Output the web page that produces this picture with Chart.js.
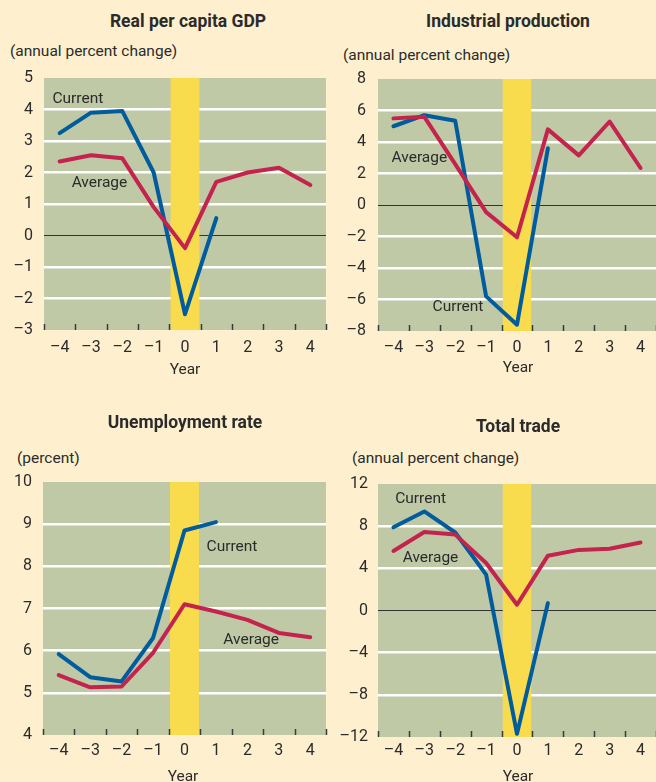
<!DOCTYPE html>
<html lang="en">
<head>
    <meta charset="UTF-8">
    <title>Recessions: current vs average</title>
    <script src="https://cdn.jsdelivr.net/npm/chart.js"></script>
    <style>
        html, body {
            margin: 0;
            padding: 0;
            width: 656px;
            height: 782px;
            overflow: hidden;
            background: #fef0ce;
            font-family: Roboto, "Liberation Sans", sans-serif;
            color: #2b2b2b;
        }
        .box { position: absolute; }
        .title {
            position: absolute;
            font-weight: bold;
            font-size: 17.5px;
            line-height: 1;
            white-space: nowrap;
            transform: translate(-50%, -50%);
        }
        .units {
            position: absolute;
            font-size: 15.5px;
            line-height: 1;
            white-space: nowrap;
            transform: translateY(-50%);
        }
        .year {
            position: absolute;
            font-size: 15.5px;
            line-height: 1;
            transform: translate(-50%, -50%);
        }
    </style>
</head>
<body>
    <div class="title" style="left:188px; top:22px;">Real per capita GDP</div>
    <div class="units" style="left:10px; top:52px;">(annual percent change)</div>
    <div class="box" style="left:0; top:64px; width:330px; height:326px;"><canvas id="gdpChart"></canvas></div>
    <div class="year" style="left:185px; top:370px;">Year</div>

    <div class="title" style="left:508px; top:22px;">Industrial production</div>
    <div class="units" style="left:343px; top:56px;">(annual percent change)</div>
    <div class="box" style="left:330px; top:64px; width:326px; height:326px;"><canvas id="ipChart"></canvas></div>
    <div class="year" style="left:518px; top:368px;">Year</div>

    <div class="title" style="left:185px; top:423px;">Unemployment rate</div>
    <div class="units" style="left:17px; top:459px;">(percent)</div>
    <div class="box" style="left:0; top:468px; width:330px; height:314px;"><canvas id="unempChart"></canvas></div>
    <div class="year" style="left:183px; top:777px;">Year</div>

    <div class="title" style="left:518px; top:427px;">Total trade</div>
    <div class="units" style="left:352px; top:459px;">(annual percent change)</div>
    <div class="box" style="left:330px; top:470px; width:326px; height:312px;"><canvas id="tradeChart"></canvas></div>
    <div class="year" style="left:518px; top:777px;">Year</div>

    <script>
        // years relative to the start of the recession
        const years = [-4, -3, -2, -1, 0, 1, 2, 3, 4];

        const gdpCurrent = [3.25, 3.9, 3.95, 2.0, -2.5, 0.55];
        const gdpAverage = [2.35, 2.55, 2.45, 0.9, -0.4, 1.7, 2.0, 2.15, 1.6];

        const ipCurrent = [5.0, 5.7, 5.35, -5.8, -7.6, 3.6];
        const ipAverage = [5.5, 5.6, 2.6, -0.45, -2.05, 4.8, 3.15, 5.3, 2.35];

        const unempCurrent = [5.92, 5.37, 5.27, 6.3, 8.85, 9.05];
        const unempAverage = [5.42, 5.13, 5.15, 5.95, 7.1, 6.93, 6.73, 6.42, 6.32];

        const tradeCurrent = [7.9, 9.4, 7.4, 3.4, -11.7, 0.7];
        const tradeAverage = [5.65, 7.45, 7.2, 4.5, 0.55, 5.2, 5.75, 5.85, 6.45];

        const BLUE = "#005c9c";
        const RED = "#c4234e";
        const GREEN = "#bfc9a5";
        const YELLOW = "#f8dc4e";
        const TEXT = "#2b2b2b";

        const dash = v => String(v).replace("-", "\u2013");

        // green plot area, yellow recession band, tick marks and line labels
        const panelDecor = {
            id: "panelDecor",
            beforeDraw(chart) {
                const a = chart.chartArea, c = chart.ctx;
                c.save();
                c.fillStyle = GREEN;
                c.fillRect(a.left, a.top, a.right - a.left, a.bottom - a.top);
                c.restore();
            },
            beforeDatasetsDraw(chart) {
                const a = chart.chartArea, c = chart.ctx, x = chart.scales.x;
                const step = x.getPixelForValue(1) - x.getPixelForValue(0);
                const mid = x.getPixelForValue(years.indexOf(0));
                c.save();
                c.fillStyle = YELLOW;
                c.fillRect(mid - step * 0.46, a.top, step * 0.92, a.bottom - a.top);
                c.strokeStyle = "#3a3a3a";
                c.lineWidth = 1.5;
                for (let i = 0; i <= years.length; i++) {
                    const px = Math.round(x.getPixelForValue(i - 0.5)) + 0.5;
                    c.beginPath();
                    c.moveTo(px, a.bottom);
                    c.lineTo(px, a.bottom - 6);
                    c.stroke();
                }
                c.restore();
            },
            afterDatasetsDraw(chart, args, opts) {
                const c = chart.ctx, x = chart.scales.x, y = chart.scales.y;
                c.save();
                c.font = "15.5px Roboto, 'Liberation Sans', sans-serif";
                c.fillStyle = TEXT;
                c.textAlign = "center";
                c.textBaseline = "middle";
                (opts.labels || []).forEach(l => {
                    c.fillText(l.text, x.getPixelForValue(l.at[0]), y.getPixelForValue(l.at[1]));
                });
                c.restore();
            }
        };

        function makePanel(id, current, average, yMin, yMax, yStep, layout, labels) {
            new Chart(document.getElementById(id), {
                type: "line",
                data: {
                    labels: years.map(dash),
                    datasets: [
                        { data: average, borderColor: RED },
                        { data: current, borderColor: BLUE }
                    ].map(d => ({
                        ...d,
                        borderWidth: 4,
                        pointRadius: 0,
                        tension: 0,
                        fill: false,
                        borderCapStyle: "round",
                        borderJoinStyle: "round"
                    }))
                },
                options: {
                    responsive: true,
                    maintainAspectRatio: false,
                    animation: false,
                    devicePixelRatio: 1,
                    layout: { padding: layout.padding, autoPadding: false },
                    plugins: {
                        legend: { display: false },
                        tooltip: { enabled: false },
                        panelDecor: { labels: labels }
                    },
                    scales: {
                        x: {
                            offset: true,
                            grid: { display: false, drawTicks: false },
                            border: { display: false },
                            ticks: {
                                color: TEXT,
                                padding: layout.xPad,
                                maxRotation: 0,
                                font: { size: 16, family: "Roboto, 'Liberation Sans', sans-serif" }
                            },
                            afterFit: s => { s.height = layout.xHeight; }
                        },
                        y: {
                            min: yMin,
                            max: yMax,
                            border: { display: false },
                            grid: {
                                drawTicks: false,
                                color: c => {
                                    const v = c.tick.value;
                                    if (v === 0) return "#333333";
                                    if (v === yMin || v === yMax) return "rgba(0,0,0,0)";
                                    return "#ffffff";
                                },
                                lineWidth: c => (c.tick.value === 0 ? 1 : 2.5)
                            },
                            ticks: {
                                stepSize: yStep,
                                color: TEXT,
                                padding: layout.yPad,
                                callback: v => dash(v),
                                font: { size: 16, family: "Roboto, 'Liberation Sans', sans-serif" }
                            },
                            afterFit: s => {
                                s.width = layout.yWidth;
                                s.paddingTop = 0;
                                s.paddingBottom = 0;
                            }
                        }
                    }
                },
                plugins: [panelDecor]
            });
        }

        makePanel("gdpChart", gdpCurrent, gdpAverage, -3, 5, 1,
            { padding: { top: 14, right: 4, bottom: 10, left: 0 }, yWidth: 44, yPad: 11, xHeight: 50, xPad: 8 },
            [{ text: "Current", at: [0.58, 4.33] }, { text: "Average", at: [1.27, 1.67] }]);

        makePanel("ipChart", ipCurrent, ipAverage, -8, 8, 2,
            { padding: { top: 15, right: 0, bottom: 9, left: 0 }, yWidth: 48, yPad: 12, xHeight: 50, xPad: 7 },
            [{ text: "Average", at: [0.84, 2.98] }, { text: "Current", at: [2.09, -6.48] }]);

        makePanel("unempChart", unempCurrent, unempAverage, 4, 10, 1,
            { padding: { top: 14, right: 4, bottom: 7, left: 0 }, yWidth: 43, yPad: 11, xHeight: 40, xPad: 6 },
            [{ text: "Current", at: [5.51, 8.46] }, { text: "Average", at: [6.12, 6.25] }]);

        makePanel("tradeChart", tradeCurrent, tradeAverage, -12, 12, 4,
            { padding: { top: 14, right: 0, bottom: 5, left: 0 }, yWidth: 48, yPad: 10, xHeight: 40, xPad: 4 },
            [{ text: "Current", at: [0.88, 10.58] }, { text: "Average", at: [1.2, 4.98] }]);
    </script>
</body>
</html>
